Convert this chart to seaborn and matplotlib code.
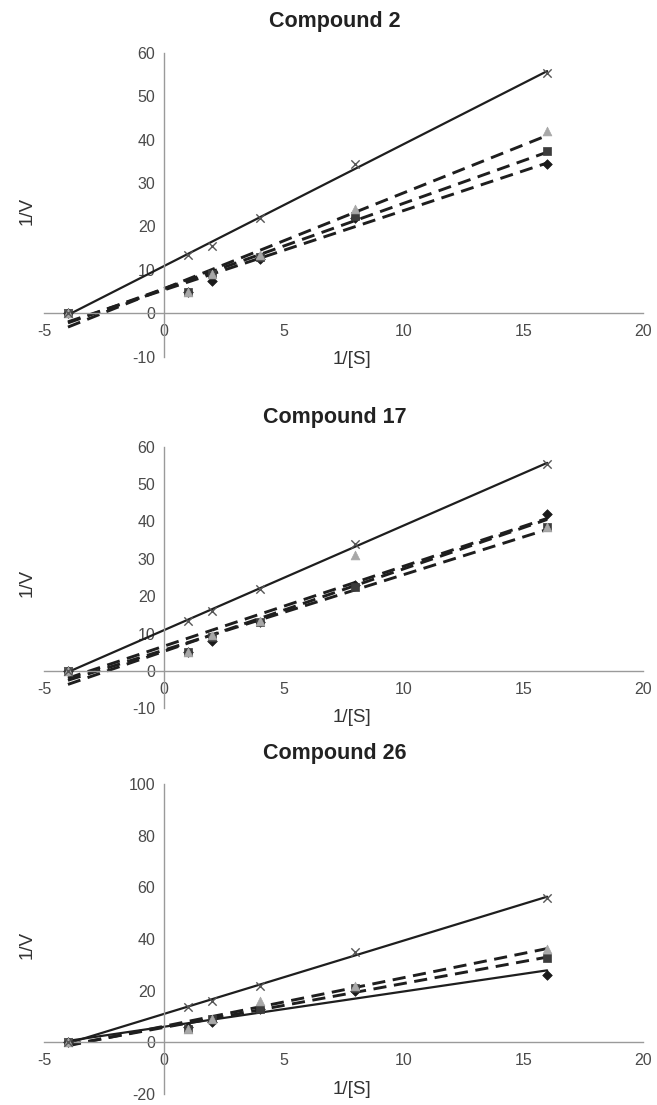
import numpy as np
import pandas as pd
import matplotlib
matplotlib.use("Agg")
import matplotlib.pyplot as plt
import seaborn as sns

# ---------------- data ----------------
inv_s = [-4, 1, 2, 4, 8, 16]
titles = ["Compound 2", "Compound 17", "Compound 26"]

c2_diamond = [0, 5, 7.5, 12.5, 22, 34.5]
c2_square = [0, 5, 9, 13, 22.5, 37.5]
c2_triangle = [0, 5, 9, 13.5, 24, 42]
c2_cross = [0, 13.5, 15.5, 22, 34.5, 55.5]

c17_diamond = [0, 5, 8, 13, 23, 42]
c17_square = [0, 5, 9, 13, 22.5, 38.5]
c17_triangle = [0, 5, 9.5, 13.5, 31, 38.5]
c17_cross = [0, 13.5, 16, 22, 34, 55.5]

c26_diamond = [0, 6, 8, 13, 20, 26]
c26_square = [0, 5, 9, 13, 21, 32.5]
c26_triangle = [0, 5, 9, 16, 22, 36]
c26_cross = [0, 13.5, 16, 22, 35, 56]

y_limits = [(-10, 60), (-10, 60), (-20, 100)]
y_steps = [10, 10, 20]
x_ticks = [-5, 0, 5, 10, 15, 20]

# ---------------- style ----------------
sns.set_theme(style="white")
plt.rcParams["font.family"] = ["Liberation Sans", "DejaVu Sans"]
plt.rcParams["axes.unicode_minus"] = False

W, H = 657, 1105
fig = plt.figure(figsize=(W / 100, H / 100), dpi=100)
fig.patch.set_facecolor("white")

# panel boxes in pixel coords (top, bottom)
boxes = [(53, 356.6), (446.7, 708.4), (784, 1094)]
left_px, right_px = 44, 643

panels = [
    (c2_diamond, c2_square, c2_triangle, c2_cross, "dashed"),
    (c17_diamond, c17_square, c17_triangle, c17_cross, "dashed"),
    (c26_diamond, c26_square, c26_triangle, c26_cross, "solid"),
]
title_ypix = [22, 418, 753]
zero_ypix = [313, 671, 1042]

series_style = [
    dict(marker="D", s=24, color="#1a1a1a"),
    dict(marker="s", s=32, color="#3c3c3c"),
    dict(marker="^", s=40, color="#a8a8a8"),
]

dash_kw = dict(color="#1e1e1e", lw=2.1, dashes=(4.5, 2.6))
solid_kw = dict(color="#1e1e1e", lw=1.6)

for i, (top, bot) in enumerate(boxes):
    ax = fig.add_axes([left_px / W, 1 - bot / H, (right_px - left_px) / W, (bot - top) / H])
    ax.set_facecolor("white")
    d, sq, tr, cx, diamond_ls = panels[i]
    df = pd.DataFrame({"x": inv_s, "diamond": d, "square": sq, "triangle": tr, "cross": cx})

    # markers
    for col, st in zip(["diamond", "square", "triangle"], series_style):
        sns.scatterplot(data=df, x="x", y=col, ax=ax, marker=st["marker"], s=st["s"],
                        color=st["color"], edgecolor=st["color"], linewidth=0.5, zorder=3)
    sns.scatterplot(data=df, x="x", y="cross", ax=ax, marker="x", s=36,
                    color="#555555", linewidth=1.0, zorder=3)

    # trendlines
    sns.regplot(data=df, x="x", y="diamond", ax=ax, scatter=False, ci=None, truncate=True,
                line_kws=(dash_kw if diamond_ls == "dashed" else solid_kw))
    sns.regplot(data=df, x="x", y="square", ax=ax, scatter=False, ci=None, truncate=True,
                line_kws=dash_kw)
    sns.regplot(data=df, x="x", y="triangle", ax=ax, scatter=False, ci=None, truncate=True,
                line_kws=dash_kw)
    sns.regplot(data=df, x="x", y="cross", ax=ax, scatter=False, ci=None, truncate=True,
                line_kws=solid_kw)

    lo, hi = y_limits[i]
    ax.set_xlim(-5, 20)
    ax.set_ylim(lo, hi)
    ax.set_xticks(x_ticks)
    ax.set_yticks(np.arange(lo, hi + 1, y_steps[i]))

    for s in ["top", "right"]:
        ax.spines[s].set_visible(False)
    for s in ["left", "bottom"]:
        ax.spines[s].set_position(("data", 0))
        ax.spines[s].set_color("#9a9a9a")
        ax.spines[s].set_linewidth(1.0)
    ax.tick_params(axis="both", direction="in", length=3, width=1, color="#9a9a9a",
                   labelsize=11.5, labelcolor="#4a4a4a")
    ax.tick_params(axis="x", pad=8)
    ax.tick_params(axis="y", pad=6)
    ax.grid(False)

    span = bot - top
    ax.set_xlabel("1/[S]", fontsize=13.5, color="#333333")
    ax.xaxis.set_label_coords((352 - left_px) / (right_px - left_px),
                              (bot - (zero_ypix[i] + 47)) / span)
    ax.xaxis.label.set_va("center")
    ax.set_ylabel("1/V", fontsize=13.5, color="#333333")
    ax.yaxis.set_label_coords((27 - left_px) / (right_px - left_px), 0.48)
    ax.yaxis.label.set_va("center")

    ax.set_title(titles[i], fontsize=15.5, fontweight="bold", color="#222222",
                 x=(335 - left_px) / (right_px - left_px),
                 y=(bot - title_ypix[i]) / span, va="center", pad=0)

fig.savefig("out.png", dpi=100, facecolor="white")
